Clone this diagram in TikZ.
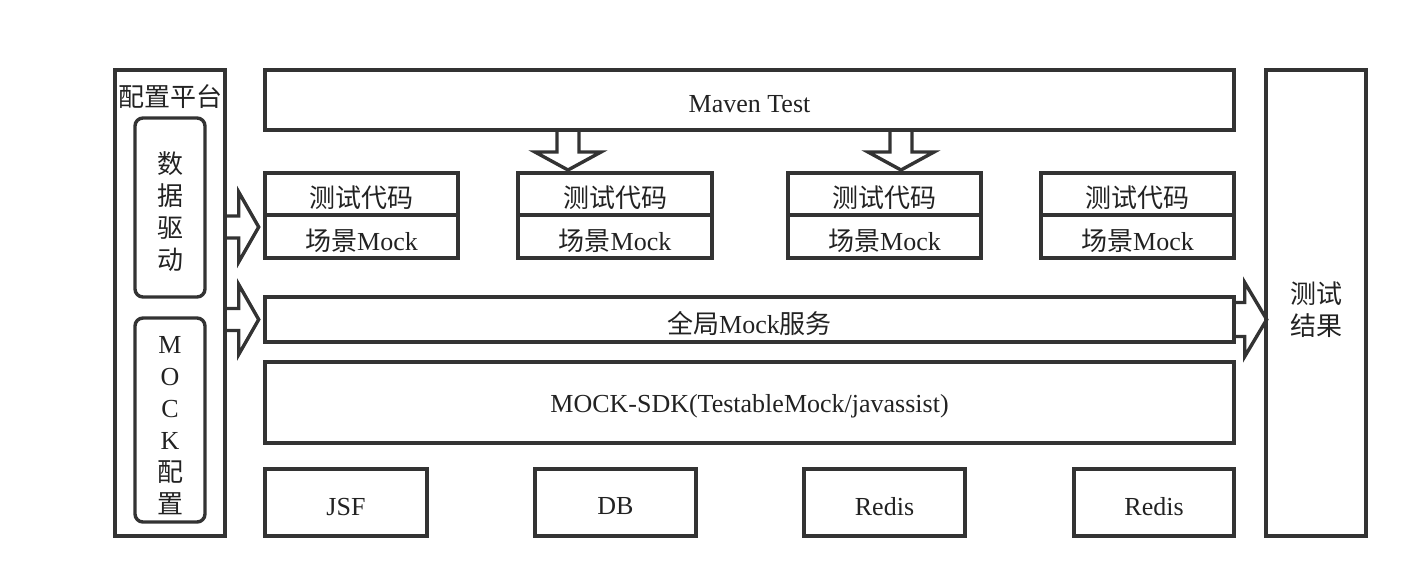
\documentclass[tikz,border=0pt]{standalone}
\usepackage{fontspec}
\setmainfont{Liberation Serif}
\newfontfamily\cjk{Noto Sans CJK SC}
\usetikzlibrary{fit}
\definecolor{edge}{HTML}{333333}
\definecolor{ink}{HTML}{222222}
\tikzset{
  box/.style={draw=edge, line width=1.7pt, inner sep=0pt},
  rbox/.style={box, rounded corners=4pt},
  txt/.style={text=ink, inner sep=0pt, align=center, yshift=-2pt},
  blk/.style={draw=edge, line width=1.7pt},
  % block arrows
  rblk/.pic={\draw[blk] (0,-11) -- (12,-11) -- (12,-35) -- (32,0) -- (12,35) -- (12,11) -- (0,11);},
  oblk/.pic={\draw[blk] (0,-17) -- (9,-17) -- (9,-37) -- (31,0) -- (9,37) -- (9,17) -- (0,17);},
  dblk/.pic={\draw[blk] (-11,0) -- (-11,22) -- (-33,22) -- (0,40) -- (33,22) -- (11,22) -- (11,0);}
}
\begin{document}
\begin{tikzpicture}[x=0.5pt, y=-0.5pt, font=\fontsize{13}{16}\selectfont]
  \useasboundingbox (0,0) rectangle (1416,586);

  % config platform
  \node[box, fit={(115,70) (225,536)}] (cfg) {};
  \node[txt] (cfgt) at (170,93) {\cjk 配置平台};
  \node[rbox, fit={(135,118) (205,297)}] (drv) {};
  \node[txt] (drvt) at (170,208) {\cjk 数\\\cjk 据\\\cjk 驱\\\cjk 动};
  \node[rbox, fit={(135,318) (205,522)}] (mcfg) {};
  \node[txt] (mcfgt) at (170,422) {M\\O\\C\\K\\\cjk 配\\\cjk 置};

  % middle stack
  \node[box, fit={(265,70) (1234,130)}] (mvn) {};
  \node[txt] at (mvn) {Maven Test};
  \foreach \i/\xa/\xb in {1/265/458, 2/518/712, 3/788/981, 4/1041/1234} {
    \node[box, fit={(\xa,173) (\xb,215)}] (code\i) {};
    \node[txt] at (code\i) {\cjk 测试代码};
    \node[box, fit={(\xa,215) (\xb,258)}] (scn\i) {};
    \node[txt] at (scn\i) {{\cjk 场景}Mock};
  }
  \node[box, fit={(265,297) (1234,342)}] (gmock) {};
  \node[txt] at (gmock) {{\cjk 全局}Mock{\cjk 服务}};
  \node[box, fit={(265,362) (1234,443)}] (sdk) {};
  \node[txt] at (sdk) {MOCK-SDK(TestableMock/javassist)};
  \foreach \n/\xa/\xb/\t in {jsf/265/427/JSF, db/535/696/DB, redisa/804/965/Redis, redisb/1074/1234/Redis} {
    \node[box, fit={(\xa,469) (\xb,536)}] (\n) {};
    \node[txt] at (\n) {\t};
  }

  % result
  \node[box, fit={(1266,70) (1366,536)}] (res) {};
  \node[txt] at (1316,306) {\cjk 测试\\\cjk 结果};

  \pic at (568,130) {dblk};
  \pic at (901,130) {dblk};
  \pic at (cfg.east |- 0,227) {rblk};
  \pic at (cfg.east |- gmock.west) {rblk};
  \pic at (gmock.east) {oblk};
\end{tikzpicture}
\end{document}
